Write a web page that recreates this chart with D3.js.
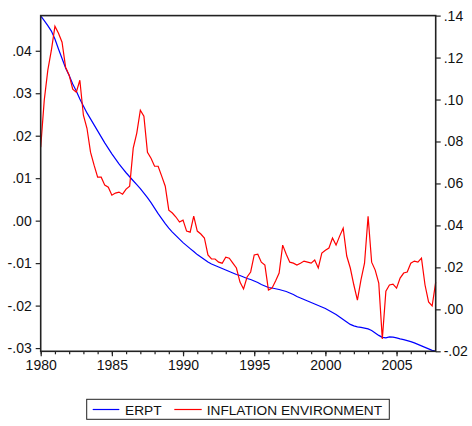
<!DOCTYPE html>
<html><head><meta charset="utf-8">
<script src="https://cdn.jsdelivr.net/npm/d3@7"></script>
<style>
html,body{margin:0;padding:0;background:#fff;}
text{font-family:"Liberation Sans",Arial,sans-serif;fill:#111;}
</style></head>
<body><svg id="c" width="472" height="426"></svg>
<script>
// Quarterly observations 1980Q1 .. 2007Q4
const startYear = 1980;
const nQuarters = 112;
const erpt = [
0.04823,0.04710,0.04592,0.04463,0.04275,0.04040,0.03817,0.03594,0.03418,0.03218,
0.03054,0.02866,0.02701,0.02537,0.02396,0.02255,0.02114,0.01973,0.01832,0.01703,
0.01574,0.01456,0.01339,0.01233,0.01128,0.01034,0.00940,0.00846,0.00752,0.00646,
0.00540,0.00423,0.00294,0.00164,0.00047,-0.00070,-0.00176,-0.00270,-0.00352,-0.00435,
-0.00517,-0.00587,-0.00658,-0.00728,-0.00799,-0.00857,-0.00916,-0.00975,-0.01022,-0.01057,
-0.01092,-0.01128,-0.01163,-0.01198,-0.01233,-0.01269,-0.01292,-0.01327,-0.01362,-0.01386,
-0.01421,-0.01456,-0.01503,-0.01539,-0.01574,-0.01586,-0.01604,-0.01621,-0.01644,-0.01668,
-0.01703,-0.01738,-0.01785,-0.01821,-0.01856,-0.01891,-0.01926,-0.01962,-0.01997,-0.02032,
-0.02067,-0.02114,-0.02161,-0.02208,-0.02267,-0.02326,-0.02384,-0.02443,-0.02478,-0.02502,
-0.02514,-0.02530,-0.02549,-0.02584,-0.02643,-0.02701,-0.02748,-0.02760,-0.02737,-0.02744,
-0.02760,-0.02784,-0.02802,-0.02824,-0.02847,-0.02878,-0.02913,-0.02948,-0.02983,-0.03019,
-0.03054,-0.03070];
const inflation = [
0.0773,0.0997,0.1140,0.1235,0.1349,0.1316,0.1273,0.1154,0.1116,0.1049,
0.1035,0.1092,0.0925,0.0863,0.0749,0.0687,0.0630,0.0630,0.0592,0.0582,
0.0544,0.0554,0.0559,0.0549,0.0573,0.0587,0.0768,0.0840,0.0949,0.0920,
0.0749,0.0720,0.0682,0.0682,0.0635,0.0587,0.0473,0.0459,0.0440,0.0416,
0.0425,0.0373,0.0368,0.0444,0.0373,0.0359,0.0340,0.0259,0.0240,0.0240,
0.0225,0.0220,0.0249,0.0244,0.0220,0.0197,0.0130,0.0097,0.0154,0.0178,
0.0259,0.0263,0.0225,0.0211,0.0092,0.0101,0.0135,0.0173,0.0306,0.0263,
0.0225,0.0220,0.0211,0.0220,0.0230,0.0225,0.0220,0.0235,0.0197,0.0268,
0.0282,0.0292,0.0340,0.0306,0.0349,0.0387,0.0254,0.0197,0.0116,0.0044,
0.0140,0.0220,0.0444,0.0225,0.0187,0.0125,-0.0141,0.0087,0.0116,0.0120,
0.0101,0.0149,0.0173,0.0178,0.0220,0.0230,0.0225,0.0244,0.0116,0.0035,
0.0016,0.0130];
const leftTicks = [0.04,0.03,0.02,0.01,0.00,-0.01,-0.02,-0.03];
const rightTicks = [0.14,0.12,0.10,0.08,0.06,0.04,0.02,0.00,-0.02];
const yearLabels = [1980,1985,1990,1995,2000,2005];
const seriesNames = ["ERPT","INFLATION ENVIRONMENT"];
const seriesColors = ["#0000ff","#ff0000"];

const svg = d3.select("#c");
const L = 40.7, R = 435.7, T = 15.6, B = 351.3;
const x = d3.scaleLinear().domain([0, nQuarters-1]).range([L, R]);
const yL = d3.scaleLinear().domain([-0.03076, 0.04828]).range([B, T]);
const yR = d3.scaleLinear().domain([-0.02, 0.14]).range([B, T]);
const fmt = v => {
  const s = Math.abs(v).toFixed(2).replace(/^0\./, ".");
  return (v < -1e-9 ? "-" : "") + s;
};

// series
const lineE = d3.line().x((d,i)=>x(i)).y(d=>yL(d));
const lineI = d3.line().x((d,i)=>x(i)).y(d=>yR(d));
svg.append("path").attr("d", lineE(erpt)).attr("fill","none").attr("stroke",seriesColors[0]).attr("stroke-width",1.2);
svg.append("path").attr("d", lineI(inflation)).attr("fill","none").attr("stroke",seriesColors[1]).attr("stroke-width",1.2);

// frame
svg.append("rect").attr("x",L).attr("y",T).attr("width",R-L).attr("height",B-T)
  .attr("fill","none").attr("stroke","#222").attr("stroke-width",1.6);

// left axis
const gl = svg.append("g").attr("transform",`translate(${L},0)`)
  .call(d3.axisLeft(yL).tickValues(leftTicks).tickFormat(fmt).tickSize(5).tickPadding(4));
// right axis
const gr = svg.append("g").attr("transform",`translate(${R},0)`)
  .call(d3.axisRight(yR).tickValues(rightTicks).tickFormat(fmt).tickSize(5).tickPadding(3));
// bottom axis: minor yearly ticks
const yearIdx = d3.range(0, 28).map(k => k*4);
const gbMinor = svg.append("g").attr("transform",`translate(0,${B})`)
  .call(d3.axisBottom(x).tickValues(yearIdx).tickFormat("").tickSize(3));
const gb = svg.append("g").attr("transform",`translate(0,${B})`)
  .call(d3.axisBottom(x).tickValues(yearLabels.map(yv => (yv-startYear)*4)).tickFormat((d)=>startYear + d/4).tickSize(5).tickPadding(4));
[gl,gr,gbMinor,gb].forEach(g=>{
  g.select(".domain").remove();
  g.selectAll(".tick line").attr("stroke","#222").attr("stroke-width",1.2);
  g.selectAll("text").style("font-family",'"Liberation Sans",Arial,sans-serif').style("font-size","14px").attr("fill","#111");
});

// legend
const lg = svg.append("g");
lg.append("rect").attr("x",86.7).attr("y",399.3).attr("width",302.6).attr("height",20)
  .attr("fill","#fff").attr("stroke","#222").attr("stroke-width",1);
const items = [{x1:92.7,x2:119.3,tx:125},{x1:174.3,x2:201.7,tx:206.7}];
items.forEach((it,i)=>{
  lg.append("line").attr("x1",it.x1).attr("x2",it.x2).attr("y1",409.5).attr("y2",409.5)
    .attr("stroke",seriesColors[i]).attr("stroke-width",1.2);
  lg.append("text").attr("x",it.tx).attr("y",414.5).style("font-size","13.7px").text(seriesNames[i]);
});
</script></body></html>
